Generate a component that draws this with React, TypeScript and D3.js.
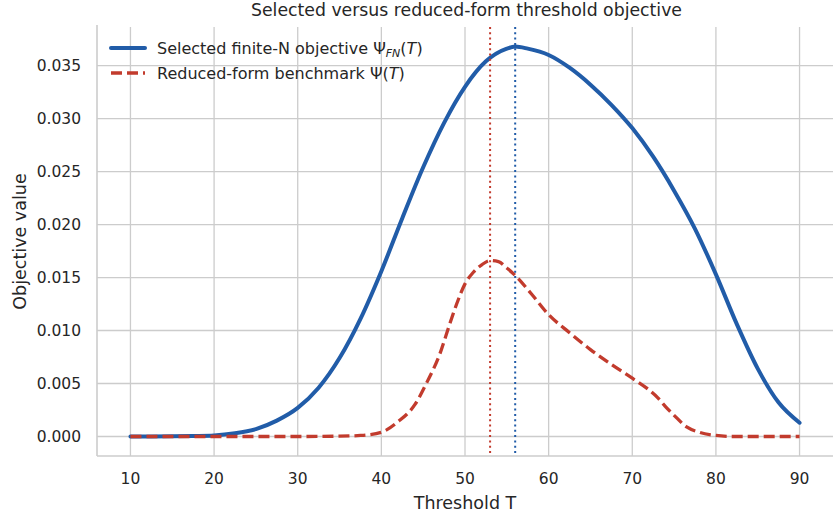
import * as d3 from "d3";
import React, { useEffect, useRef } from "react";

// threshold values and objective readings
const blueT = [10, 12.5, 15, 17.5, 20, 22.5, 25, 27.5, 30, 32.5, 35, 37.5, 40, 42.5, 45, 47.5, 50, 52.5, 55, 56, 57.5, 60, 62.5, 65, 67.5, 70, 72.5, 75, 77.5, 80, 82.5, 85, 87.5, 90];
const blueV = [0, 0.00001, 0.00002, 0.00005, 0.0001, 0.0003, 0.0007, 0.0015, 0.0027, 0.0046, 0.0074, 0.0111, 0.0156, 0.0206, 0.0254, 0.0296, 0.033, 0.0354, 0.0366, 0.0368, 0.0366, 0.036, 0.0348, 0.0332, 0.0313, 0.0291, 0.0264, 0.0232, 0.0196, 0.0153, 0.0106, 0.0064, 0.0032, 0.0013];

const redT = [10, 15, 20, 25, 30, 35, 37.5, 40, 42, 44, 45.5, 47, 48, 49, 50, 51, 52, 53, 54, 55, 56, 58, 60, 62.5, 65, 67.5, 70, 72, 73, 74, 75, 76.5, 78, 80, 82, 85, 90];
const redV = [0, 0, 0, 0, 0, 0.00003, 0.0001, 0.0004, 0.0014, 0.003, 0.0052, 0.0078, 0.0102, 0.0125, 0.0144, 0.0155, 0.0162, 0.0166, 0.0165, 0.0159, 0.0152, 0.0134, 0.0115, 0.0098, 0.0082, 0.0068, 0.0055, 0.0044, 0.0037, 0.0028, 0.002, 0.0009, 0.0004, 0.0001, 0, 0, 0];

const xTicks = [10, 20, 30, 40, 50, 60, 70, 80, 90];
const yTicks = [0, 0.005, 0.01, 0.015, 0.02, 0.025, 0.03, 0.035];

const redPeakT = 53;
const bluePeakT = 56;

const width = 833;
const height = 517;
const font = "DejaVu Sans, sans-serif";
const textColor = "#262626";
const gridColor = "#cccccc";
const blue = "#215ca8";
const red = "#c23b2d";

const App = () => {
  const ref = useRef<HTMLDivElement>(null);

  useEffect(() => {
    const left = 97, right = 833, top = 27, bottom = 456;
    const x = d3.scaleLinear().domain([6, 94]).range([left, right]);
    const y = d3.scaleLinear().domain([-0.00184, 0.03864]).range([bottom, top]);

    const svg = d3.create("svg")
      .attr("width", width)
      .attr("height", height)
      .style("font-family", font)
      .style("background", "#fff");

    // grid
    svg.append("g").selectAll("line").data(xTicks).join("line")
      .attr("x1", d => x(d)).attr("x2", d => x(d))
      .attr("y1", top).attr("y2", bottom)
      .attr("stroke", gridColor).attr("stroke-width", 1.3);
    svg.append("g").selectAll("line").data(yTicks).join("line")
      .attr("x1", left).attr("x2", right)
      .attr("y1", d => y(d)).attr("y2", d => y(d))
      .attr("stroke", gridColor).attr("stroke-width", 1.3);

    // spines (left and bottom only)
    svg.append("line").attr("x1", left).attr("x2", left).attr("y1", top - 2).attr("y2", bottom)
      .attr("stroke", gridColor).attr("stroke-width", 1.6);
    svg.append("line").attr("x1", left).attr("x2", right).attr("y1", bottom).attr("y2", bottom)
      .attr("stroke", gridColor).attr("stroke-width", 1.6);

    // tick labels
    svg.append("g").selectAll("text").data(xTicks).join("text")
      .attr("x", d => x(d)).attr("y", 484)
      .attr("text-anchor", "middle")
      .attr("font-size", 15.5).attr("fill", textColor)
      .text(d => d3.format("d")(d));
    svg.append("g").selectAll("text").data(yTicks).join("text")
      .attr("x", 81).attr("y", d => y(d)).attr("dy", "0.35em")
      .attr("text-anchor", "end")
      .attr("font-size", 15.5).attr("fill", textColor)
      .text(d => d3.format(".3f")(d));

    const blueData: [number, number][] = blueT.map((t, i) => [t, blueV[i]]);
    const redData: [number, number][] = redT.map((t, i) => [t, redV[i]]);

    const line = d3.line<[number, number]>()
      .x(d => x(d[0]))
      .y(d => y(d[1]))
      .curve(d3.curveMonotoneX);

    svg.append("path")
      .attr("d", line(blueData))
      .attr("fill", "none")
      .attr("stroke", blue)
      .attr("stroke-width", 4)
      .attr("stroke-linecap", "round");

    svg.append("path")
      .attr("d", line(redData))
      .attr("fill", "none")
      .attr("stroke", red)
      .attr("stroke-width", 3.3)
      .attr("stroke-dasharray", "11,5");

    // peak markers
    svg.append("line")
      .attr("x1", x(redPeakT)).attr("x2", x(redPeakT))
      .attr("y1", top).attr("y2", bottom)
      .attr("stroke", red).attr("stroke-width", 2)
      .attr("stroke-dasharray", "2,3.3");
    svg.append("line")
      .attr("x1", x(bluePeakT)).attr("x2", x(bluePeakT))
      .attr("y1", top).attr("y2", bottom)
      .attr("stroke", blue).attr("stroke-width", 2)
      .attr("stroke-dasharray", "2,3.3");

    // legend
    const lg = svg.append("g");
    lg.append("line").attr("x1", 111).attr("x2", 145).attr("y1", 48).attr("y2", 48)
      .attr("stroke", blue).attr("stroke-width", 4).attr("stroke-linecap", "round");
    lg.append("line").attr("x1", 111).attr("x2", 145).attr("y1", 73).attr("y2", 73)
      .attr("stroke", red).attr("stroke-width", 3.3).attr("stroke-dasharray", "11,5");

    const t1 = lg.append("text").attr("x", 157).attr("y", 54)
      .attr("font-size", 16).attr("fill", textColor);
    t1.append("tspan").text("Selected finite-N objective Ψ");
    t1.append("tspan").attr("font-size", 11).attr("font-style", "italic").attr("dy", 3).text("FN");
    t1.append("tspan").attr("dy", -3).text("(");
    t1.append("tspan").attr("font-style", "italic").text("T");
    t1.append("tspan").text(")");

    const t2 = lg.append("text").attr("x", 157).attr("y", 79)
      .attr("font-size", 16).attr("fill", textColor);
    t2.append("tspan").text("Reduced-form benchmark Ψ(");
    t2.append("tspan").attr("font-style", "italic").text("T");
    t2.append("tspan").text(")");

    // title and axis labels
    svg.append("text")
      .attr("x", 466.5).attr("y", 16)
      .attr("text-anchor", "middle")
      .attr("font-size", 17.3).attr("fill", textColor)
      .text("Selected versus reduced-form threshold objective");

    svg.append("text")
      .attr("x", (left + right) / 2).attr("y", 509)
      .attr("text-anchor", "middle")
      .attr("font-size", 17.5).attr("fill", textColor)
      .text("Threshold T");

    svg.append("text")
      .attr("transform", `translate(26, ${(top + bottom) / 2}) rotate(-90)`)
      .attr("text-anchor", "middle")
      .attr("font-size", 17.5).attr("fill", textColor)
      .text("Objective value");

    if (ref.current) {
      ref.current.innerHTML = "";
      ref.current.appendChild(svg.node()!);
    }
  }, []);

  return <div ref={ref} style={{ position: "absolute", left: 0, top: 0 }}></div>;
};

export default App;
